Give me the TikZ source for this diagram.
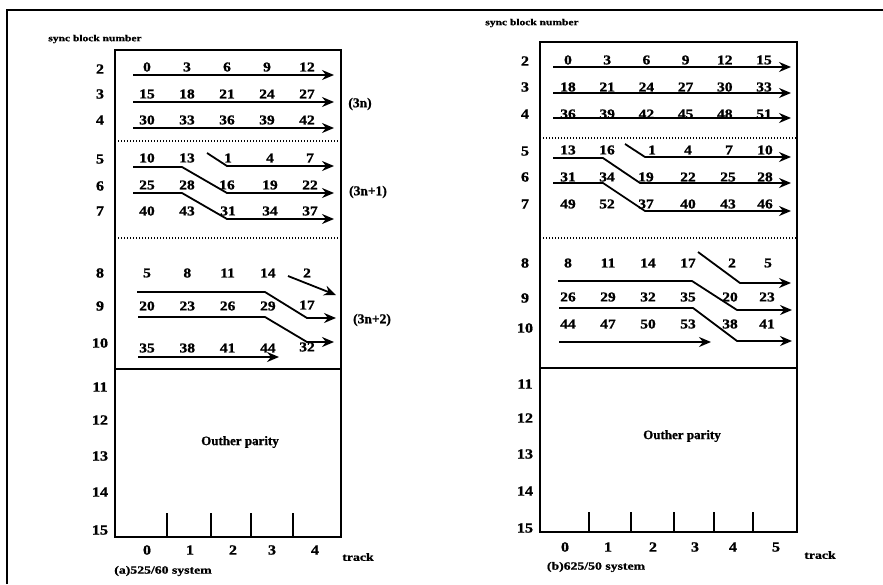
\documentclass[tikz,border=0pt]{standalone}
\usepackage{fontspec}
\setmainfont{Liberation Serif}[BoldFeatures={FakeBold=1}]
\newfontfamily\widefont{Liberation Serif}[FakeStretch=1.25,BoldFeatures={FakeBold=1}]
\newfontfamily\digitfont{Liberation Serif}[FakeStretch=1.15,BoldFeatures={FakeBold=1.2}]
\usetikzlibrary{arrows.meta}

\tikzset{
  frame/.style={line width=1.6pt},
  boxline/.style={line width=1.5pt},
  sep/.style={line width=1.3pt, dash pattern=on 1.3pt off 1.7pt},
  flow/.style={line width=1.8pt, line join=round, -{Stealth[length=12pt,width=10pt,inset=4pt]}},
  tickmark/.style={line width=1.5pt},
  num/.style={font=\digitfont\bfseries\fontsize{13.5}{14}\selectfont, inner sep=0pt},
  rowlab/.style={font=\digitfont\bfseries\fontsize{14}{15}\selectfont, inner sep=0pt},
  smalllab/.style={font=\widefont\bfseries\fontsize{9.2}{10}\selectfont, inner sep=0pt},
  caplab/.style={font=\widefont\bfseries\fontsize{11}{12}\selectfont, inner sep=0pt},
  parlab/.style={font=\bfseries\fontsize{13}{14}\selectfont, inner sep=0pt},
  sidelab/.style={font=\bfseries\fontsize{13.5}{14}\selectfont, inner sep=0pt},
}

\begin{document}
\begin{tikzpicture}[x=1pt,y=-1pt]
\useasboundingbox (0,0) rectangle (883,584);

% outer frame (left and top edges)
\draw[frame] (7,584) -- (7,10) -- (883,10);

% ================= (a) 525/60 system =================
\node[smalllab] (a-title) at (95,39) {sync block number};
\draw[boxline] (115,50) rectangle (341,537);
\draw[boxline] (115,369) -- (341,369);
\draw[sep] (115,141) -- (341,141);
\draw[sep] (115,238) -- (341,238);

% sync block numbers
\foreach \n/\y in {2/69,3/94,4/120,5/159,6/186,7/211,8/273,9/306,10/343,11/387,12/420,13/456,14/492,15/530}
  \node[rowlab] (a-r\n) at (100,\y) {\n};

% (3n) rows
\foreach \t [count=\i from 0] in {0,3,6,9,12}
  \node[num] (a-2-\i) at (147+40*\i,67) {\t};
\foreach \t [count=\i from 0] in {15,18,21,24,27}
  \node[num] (a-3-\i) at (147+40*\i,94) {\t};
\foreach \t [count=\i from 0] in {30,33,36,39,42}
  \node[num] (a-4-\i) at (147+40*\i,120) {\t};
\draw[flow] (133,75) -- (334,75);
\draw[flow] (133,102) -- (334,102);
\draw[flow] (133,128) -- (334,128);
\node[sidelab] (a-3n) at (360,104) {(3n)};

% (3n+1) rows
\node[num] at (147,158) {10}; \node[num] at (187,158) {13};
\node[num] at (228,158) {1};  \node[num] at (270,158) {4};  \node[num] at (310,158) {7};
\node[num] at (147,185) {25}; \node[num] at (187,185) {28};
\node[num] at (227,185) {16}; \node[num] at (270,185) {19}; \node[num] at (310,185) {22};
\node[num] at (147,211) {40}; \node[num] at (187,211) {43};
\node[num] at (228,211) {31}; \node[num] at (270,211) {34}; \node[num] at (310,211) {37};
\draw[flow] (207,153) -- (227,166) -- (334,166);
\draw[flow] (133,167) -- (182,167) -- (227,193) -- (334,193);
\draw[flow] (133,193) -- (182,193) -- (227,219) -- (334,219);
\node[sidelab] (a-3n1) at (368,192) {(3n+1)};

% (3n+2) rows
\foreach \t [count=\i from 0] in {5,8,11,14}
  \node[num] (a-8-\i) at (147+40.3*\i,273) {\t};
\node[num] at (307,273) {2};
\foreach \t [count=\i from 0] in {20,23,26,29}
  \node[num] (a-9-\i) at (147+40.3*\i,306) {\t};
\node[num] at (307,305) {17};
\foreach \t [count=\i from 0] in {35,38,41,44}
  \node[num] (a-10-\i) at (147+40.3*\i,348) {\t};
\node[num] at (307,347) {32};
\draw[flow] (288,276) -- (336,295);
\draw[flow] (137,292) -- (265,292) -- (307,318) -- (336,318);
\draw[flow] (138,317) -- (265,317) -- (307,342) -- (334,342);
\draw[flow] (138,357) -- (279,357);
\node[sidelab] (a-3n2) at (372,320) {(3n+2)};

\node[parlab] (a-par) at (240,442) {Outher parity};

% track boundaries
\foreach \x in {167,211,251,293}
  \draw[tickmark] (\x,513) -- (\x,537);
\foreach \t/\x in {0/147,1/190,2/233,3/272,4/315}
  \node[rowlab] (a-t\t) at (\x,550) {\t};
\node[caplab] (a-track) at (358,557) {track};
\node[caplab] (a-cap) at (163,571) {(a)525/60 system};

% ================= (b) 625/50 system =================
\node[smalllab] (b-title) at (532,23) {sync block number};
\draw[boxline] (540,42) rectangle (797,532);
\draw[boxline] (540,368) -- (797,368);
\draw[sep] (540,138) -- (797,138);
\draw[sep] (540,238) -- (797,238);

\foreach \n/\y in {2/61,3/87,4/114,5/151,6/177,7/204,8/263,9/298,10/328,11/384,12/418,13/454,14/491,15/528}
  \node[rowlab] (b-r\n) at (525,\y) {\n};

% (3n) rows
\foreach \t [count=\i from 0] in {0,3,6,9,12,15}
  \node[num] (b-2-\i) at (568+39.2*\i,60) {\t};
\foreach \t [count=\i from 0] in {18,21,24,27,30,33}
  \node[num] (b-3-\i) at (568+39.2*\i,87) {\t};
\foreach \t [count=\i from 0] in {36,39,42,45,48,51}
  \node[num] (b-4-\i) at (568+39.2*\i,114) {\t};
\draw[flow] (553,67) -- (791,67);
\draw[flow] (553,93) -- (791,93);
\draw[flow] (553,118) -- (791,118);

% (3n+1) rows
\node[num] at (568,150) {13}; \node[num] at (607,150) {16};
\node[num] at (652,150) {1};  \node[num] at (688,150) {4};
\node[num] at (729,150) {7};  \node[num] at (765,150) {10};
\node[num] at (568,177) {31}; \node[num] at (607,177) {34};
\node[num] at (646,177) {19}; \node[num] at (688,177) {22};
\node[num] at (728,177) {25}; \node[num] at (765,177) {28};
\node[num] at (568,204) {49}; \node[num] at (607,204) {52};
\node[num] at (646,204) {37}; \node[num] at (688,204) {40};
\node[num] at (728,204) {43}; \node[num] at (765,204) {46};
\draw[flow] (625,144) -- (645,157) -- (791,157);
\draw[flow] (553,158) -- (603,158) -- (640,183) -- (791,183);
\draw[flow] (553,183) -- (603,183) -- (645,211) -- (791,211);

% (3n+2) rows
\foreach \t [count=\i from 0] in {8,11,14,17}
  \node[num] (b-8-\i) at (568+40*\i,263) {\t};
\node[num] at (732,263) {2}; \node[num] at (768,263) {5};
\foreach \t [count=\i from 0] in {26,29,32,35}
  \node[num] (b-9-\i) at (568+40*\i,297) {\t};
\node[num] at (730,297) {20}; \node[num] at (767,297) {23};
\foreach \t [count=\i from 0] in {44,47,50,53}
  \node[num] (b-10-\i) at (568+40*\i,324) {\t};
\node[num] at (730,324) {38}; \node[num] at (767,324) {41};
\draw[flow] (698,252) -- (740,283) -- (791,283);
\draw[flow] (558,281) -- (692,281) -- (737,310) -- (792,310);
\draw[flow] (559,308) -- (693,308) -- (737,341) -- (792,341);
\draw[flow] (559,342) -- (711,342);

\node[parlab] (b-par) at (682,436) {Outher parity};

\foreach \x in {589,631,674,714,753}
  \draw[tickmark] (\x,512) -- (\x,532);
\foreach \t/\x in {0/565,1/608,2/653,3/695,4/733,5/776}
  \node[rowlab] (b-t\t) at (\x,547) {\t};
\node[caplab] (b-track) at (820,555) {track};
\node[caplab] (b-cap) at (596,567) {(b)625/50 system};

\end{tikzpicture}
\end{document}
